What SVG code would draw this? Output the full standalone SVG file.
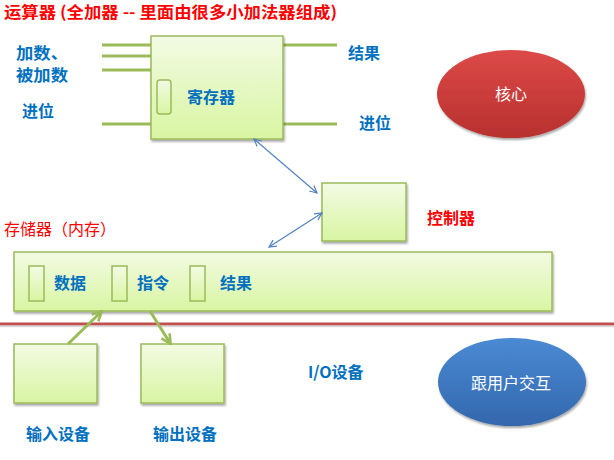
<svg xmlns="http://www.w3.org/2000/svg" width="614" height="460" viewBox="0 0 614 460">
<defs>
<linearGradient id="gbox" x1="0" y1="0" x2="0" y2="1">
<stop offset="0" stop-color="#F3FBE4"/>
<stop offset="1" stop-color="#D8F5A2"/>
</linearGradient>
<linearGradient id="gred" x1="0" y1="0" x2="0" y2="1">
<stop offset="0" stop-color="#DC4A47"/>
<stop offset="1" stop-color="#B8302E"/>
</linearGradient>
<linearGradient id="gblue" x1="0" y1="0" x2="0" y2="1">
<stop offset="0" stop-color="#4A8AD4"/>
<stop offset="1" stop-color="#3367AC"/>
</linearGradient>
<filter id="sh" x="-10%" y="-10%" width="130%" height="130%">
<feGaussianBlur in="SourceAlpha" stdDeviation="1.2"/>
<feOffset dx="1" dy="2" result="b"/>
<feComponentTransfer><feFuncA type="linear" slope="0.35"/></feComponentTransfer>
<feMerge><feMergeNode/><feMergeNode in="SourceGraphic"/></feMerge>
</filter>
<marker id="ab" viewBox="0 0 10 10" refX="9" refY="5" markerWidth="9" markerHeight="9" orient="auto-start-reverse" markerUnits="userSpaceOnUse">
<path d="M1,1 L9,5 L1,9" fill="none" stroke="#4F81BD" stroke-width="1.3"/>
</marker>
<marker id="ag" viewBox="0 0 10 10" refX="8" refY="5" markerWidth="12" markerHeight="12" orient="auto" markerUnits="userSpaceOnUse">
<path d="M1,1 L9,5 L1,9" fill="none" stroke="#9BBB59" stroke-width="2.2"/>
</marker>
</defs>
<style>
.box{fill:url(#gbox);stroke:#9BBB59;stroke-width:1.5;filter:url(#sh)}
.slot{fill:url(#gbox);stroke:#9BBB59;stroke-width:1.5}
.wire{stroke:#9BBB59;stroke-width:3;fill:none}
.blue{font-family:"Noto Sans CJK SC","Liberation Sans",sans-serif;font-weight:bold;fill:#0070C0;font-size:16px}
.red{font-family:"Noto Sans CJK SC","Liberation Sans",sans-serif;fill:#FF0000;font-size:16px}
.white{font-family:"Noto Sans CJK SC","Liberation Sans",sans-serif;fill:#FFFFFF;font-size:16px}
</style>
<rect width="614" height="460" fill="#FFFFFF"/>
<text class="red" x="4" y="18" font-weight="bold" textLength="333" lengthAdjust="spacingAndGlyphs">运算器 (全加器 -- 里面由很多小加法器组成)</text>
<g id="alu">
<line class="wire" x1="102" y1="45" x2="151" y2="45"/>
<line class="wire" x1="102" y1="56" x2="151" y2="56"/>
<line class="wire" x1="102" y1="70" x2="151" y2="70"/>
<line class="wire" x1="102" y1="124" x2="151" y2="124"/>
<line class="wire" x1="283" y1="45" x2="337" y2="45"/>
<line class="wire" x1="283" y1="124" x2="337" y2="124"/>
<rect class="box" x="151" y="36" width="132" height="103"/>
<rect class="slot" x="157" y="80" width="14" height="34" rx="3"/>
<text class="blue" x="187" y="103" font-size="17">寄存器</text>
<text class="blue" x="16" y="59" font-size="15" textLength="52" lengthAdjust="spacingAndGlyphs">加数、</text>
<text class="blue" x="16" y="81" font-size="15" textLength="52" lengthAdjust="spacingAndGlyphs">被加数</text>
<text class="blue" x="22" y="117" font-size="17">进位</text>
<text class="blue" x="348" y="59" font-size="16">结果</text>
<text class="blue" x="359" y="129" font-size="16">进位</text>
</g>
<g id="core">
<ellipse cx="511" cy="94" rx="74" ry="44" fill="url(#gred)" filter="url(#sh)"/>
<text class="white" x="511" y="100" text-anchor="middle">核心</text>
</g>
<g id="controller">
<rect class="box" x="322" y="183" width="84" height="58"/>
<text class="red" x="427" y="224" font-weight="bold" font-size="17">控制器</text>
</g>
<text class="red" x="4" y="235">存储器（内存）</text>
<g id="memory">
<rect class="box" x="14" y="252" width="538" height="59"/>
<rect class="slot" x="29" y="266" width="15" height="35"/>
<rect class="slot" x="112" y="266" width="15" height="35"/>
<rect class="slot" x="190" y="266" width="15" height="35"/>
<text class="blue" x="54" y="289" font-size="16.5">数据</text>
<text class="blue" x="137" y="289" font-size="16.5">指令</text>
<text class="blue" x="220" y="289" font-size="16.5">结果</text>
</g>
<line x1="0" y1="324" x2="614" y2="324" stroke="#C0504D" stroke-width="3"/>
<line x1="0" y1="326.5" x2="614" y2="326.5" stroke="#D9D9D9" stroke-width="1.5"/>
<g id="input">
<rect class="box" x="14" y="344" width="83" height="59"/>
<text class="blue" x="26" y="440">输入设备</text>
</g>
<g id="output">
<rect class="box" x="141" y="344" width="83" height="59"/>
<text class="blue" x="153" y="440">输出设备</text>
</g>
<text class="blue" x="308" y="378">I/O设备</text>
<g id="user">
<ellipse cx="512" cy="382" rx="74" ry="44" fill="url(#gblue)" filter="url(#sh)"/>
<text class="white" x="511" y="389" text-anchor="middle">跟用户交互</text>
</g>
<g id="connectors">
<line x1="254" y1="139" x2="317" y2="193" stroke="#4F81BD" stroke-width="1.2" marker-start="url(#ab)" marker-end="url(#ab)"/>
<line x1="322" y1="213" x2="269" y2="247" stroke="#4F81BD" stroke-width="1.2" marker-start="url(#ab)" marker-end="url(#ab)"/>
<line x1="68" y1="344" x2="101" y2="312" stroke="#9BBB59" stroke-width="3" marker-end="url(#ag)"/>
<line x1="150" y1="311" x2="170" y2="343" stroke="#9BBB59" stroke-width="3" marker-end="url(#ag)"/>
</g>
</svg>
